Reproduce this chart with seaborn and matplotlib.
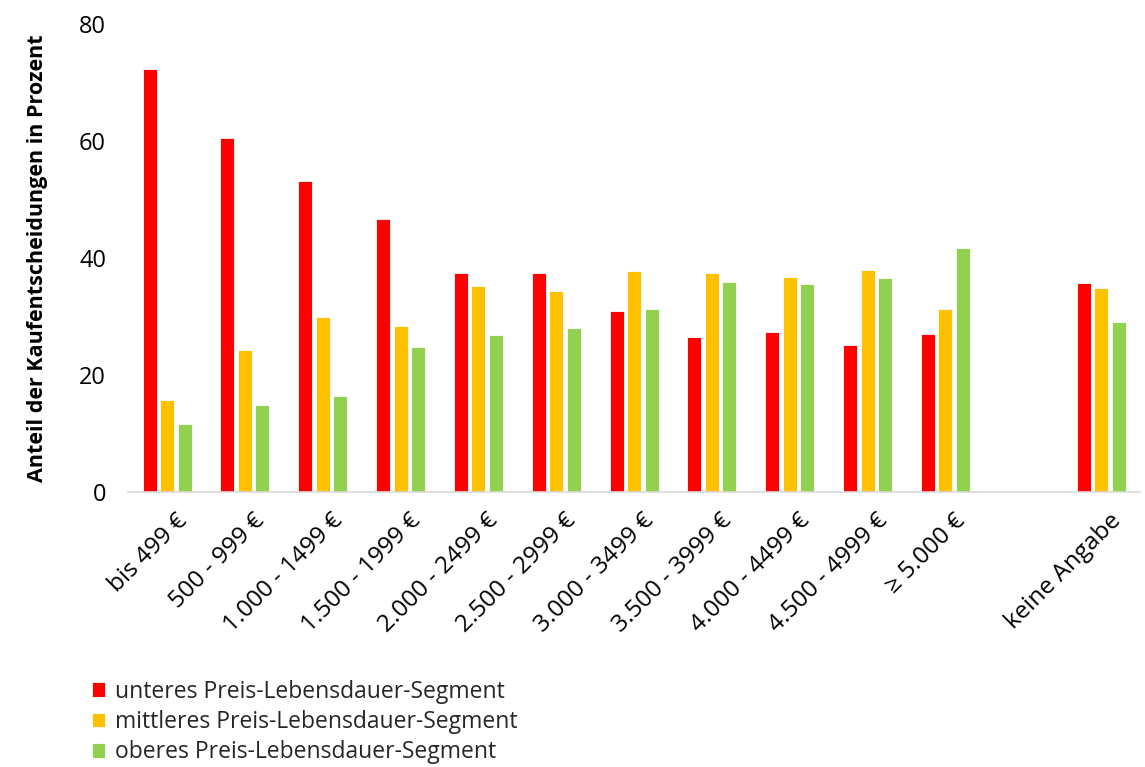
import matplotlib
matplotlib.use("Agg")
import matplotlib.pyplot as plt
import matplotlib.transforms as mtransforms
import seaborn as sns
import pandas as pd

categories = ["bis 499 €", "500 - 999 €", "1.000 - 1499 €", "1.500 - 1999 €",
              "2.000 - 2499 €", "2.500 - 2999 €", "3.000 - 3499 €", "3.500 - 3999 €",
              "4.000 - 4499 €", "4.500 - 4999 €", "≥ 5.000 €", "keine Angabe"]
unteres = [72.3, 60.5, 53.2, 46.7, 37.5, 37.5, 30.9, 26.5, 27.4, 25.2, 27.0, 35.7]
mittleres = [15.7, 24.3, 29.9, 28.3, 35.3, 34.4, 37.7, 37.5, 36.8, 37.9, 31.3, 34.8]
oberes = [11.6, 14.9, 16.4, 24.8, 26.8, 28.0, 31.3, 35.9, 35.5, 36.6, 41.7, 29.1]
series_names = ["unteres Preis-Lebensdauer-Segment",
                "mittleres Preis-Lebensdauer-Segment",
                "oberes Preis-Lebensdauer-Segment"]
colors = ["#FF0000", "#FFC000", "#92D050"]
ylabel = "Anteil der Kaufentscheidungen in Prozent"
yticks = [0, 20, 40, 60, 80]

sns.set_theme(style="white")
plt.rcParams['font.family'] = ['Open Sans', 'DejaVu Sans']

rows = []
for name, vals in zip(series_names, [unteres, mittleres, oberes]):
    for c, v in zip(categories, vals):
        rows.append({"Kategorie": c, "Segment": name, "Wert": v})
df = pd.DataFrame(rows)

# empty slot between "≥ 5.000 €" and "keine Angabe"
order = categories[:-1] + [" "] + categories[-1:]

fig = plt.figure(figsize=(11.45, 7.67), dpi=100)
ax = fig.add_axes([0.112, 0.3585, 0.8836, 0.6102])
sns.barplot(data=df, x="Kategorie", y="Wert", hue="Segment", order=order,
            hue_order=series_names, palette=colors, saturation=1,
            width=0.675, gap=0.2,
            edgecolor="white", linewidth=0.6, ax=ax, legend=True)

ax.set_ylim(0, 80)
ax.set_xlim(-0.5, len(order) - 0.5)
ax.set_yticks(yticks)
ax.set_yticklabels([str(t) for t in yticks], fontsize=17, color="#000000")
ax.tick_params(axis="y", length=0, pad=16)
ax.tick_params(axis="x", length=0, pad=12)
ax.set_xticks(range(len(order)))
ax.set_xticklabels([o.strip() for o in order], rotation=45, ha="right",
                   rotation_mode="anchor", fontsize=17.5, color="#000000")
offset = mtransforms.ScaledTranslation(8 / 100, 0, fig.dpi_scale_trans)
for lab in ax.get_xticklabels():
    lab.set_transform(lab.get_transform() + offset)
ax.set_xlabel("")
ax.set_ylabel(ylabel, fontsize=15.5, fontweight="bold", color="#000000", labelpad=22)
for s in ["top", "right", "left"]:
    ax.spines[s].set_visible(False)
ax.spines["bottom"].set_color("#d9d9d9")
ax.spines["bottom"].set_linewidth(1.2)

handles, labels = ax.get_legend_handles_labels()
ax.get_legend().remove()
fig.legend(handles, labels, loc="upper left", bbox_to_anchor=(0.072, 0.126),
           frameon=False, fontsize=16.5, handlelength=0.6, handleheight=0.6,
           handletextpad=0.4, labelspacing=0.28, borderaxespad=0)

fig.savefig("out.png", dpi=100)
